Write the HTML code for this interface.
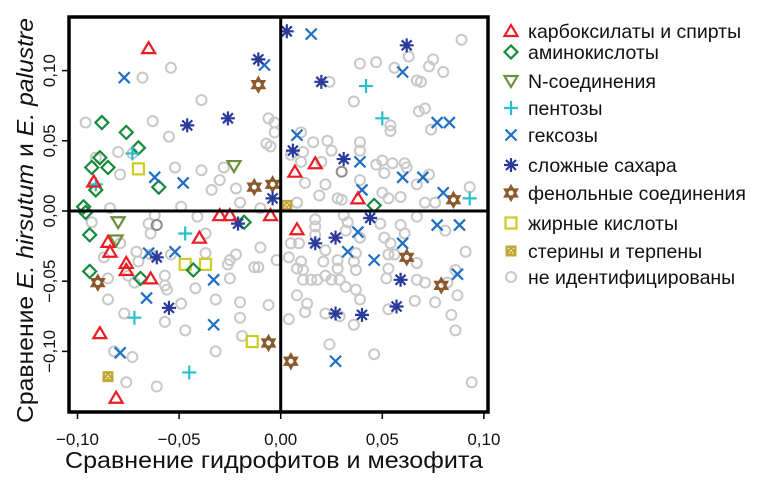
<!DOCTYPE html>
<html><head><meta charset="utf-8"><style>
html,body{margin:0;padding:0;background:#fff;}
svg{display:block;font-family:"Liberation Sans",sans-serif;}
</style></head><body>
<svg id="chart" width="765" height="485" viewBox="0 0 765 485" xmlns="http://www.w3.org/2000/svg">
<g id="marks"></g>
<g id="axes"></g>
<g id="legend"></g>
</svg>
<script>
const xTicks=[-0.10,-0.05,0.00,0.05,0.10];
const xTickLabels=["−0,10","−0,05","0,00","0,05","0,10"];
const yTicks=[-0.10,-0.05,0.00,0.05,0.10];
const yTickLabels=["−0,10","−0,05","0,00","0,05","0,10"];
const seriesNames=["карбоксилаты и спирты","аминокислоты","N-соединения","пентозы","гексозы","сложные сахара","фенольные соединения","жирные кислоты","стерины и терпены","не идентифицированы"];
const carboxX=[-0.065,-0.092,-0.030,-0.025,-0.005,-0.085,-0.084,-0.040,-0.076,-0.076,-0.064,-0.089,-0.081,0.007,0.017,0.038,0.008];
const carboxY=[0.116,0.021,-0.003,-0.003,-0.003,-0.022,-0.029,-0.019,-0.037,-0.042,-0.048,-0.087,-0.133,0.028,0.034,0.009,-0.013];
const aminoX=[-0.088,-0.076,-0.070,-0.089,-0.085,-0.093,-0.060,-0.091,-0.097,-0.096,-0.094,-0.094,-0.069,-0.043,-0.018,0.046];
const aminoY=[0.063,0.056,0.045,0.038,0.031,0.031,0.017,0.015,0.003,-0.001,-0.017,-0.043,-0.048,-0.042,-0.008,0.004];
const nX=[-0.023,-0.080,-0.081];
const nY=[0.032,-0.008,-0.021];
const pentX=[-0.073,0.042,0.050,0.093,-0.047,-0.072,-0.045,-0.091];
const pentY=[0.041,0.089,0.066,0.009,-0.016,-0.076,-0.115,0.019];
const hexX=[-0.077,-0.008,-0.062,-0.048,0.015,0.060,0.077,0.083,0.008,0.039,0.060,0.070,0.040,0.080,-0.065,-0.052,-0.033,-0.033,-0.079,-0.066,0.077,0.088,0.060,0.046,0.033,0.038,0.087,0.027];
const hexY=[0.095,0.104,0.024,0.020,0.126,0.099,0.063,0.063,0.054,0.035,0.024,0.024,0.015,0.013,-0.030,-0.029,-0.049,-0.081,-0.101,-0.062,-0.010,-0.010,-0.023,-0.035,-0.029,-0.015,-0.045,-0.107];
const sugarX=[-0.011,-0.046,-0.026,-0.004,0.003,0.062,0.020,0.006,0.031,-0.021,-0.061,-0.055,0.044,0.027,0.017,0.027,0.040,0.057,0.059];
const sugarY=[0.108,0.061,0.066,0.009,0.128,0.118,0.092,0.043,0.037,-0.009,-0.033,-0.069,-0.005,-0.019,-0.023,-0.073,-0.074,-0.068,-0.049];
const phenX=[-0.011,-0.013,-0.004,0.085,-0.090,-0.006,0.062,0.079,0.005];
const phenY=[0.090,0.017,0.019,0.008,-0.051,-0.094,-0.033,-0.053,-0.107];
const fatX=[-0.070,-0.047,-0.037,-0.014];
const fatY=[0.030,-0.038,-0.038,-0.093];
const sterX=[-0.085,0.003];
const sterY=[-0.118,0.004];
const unkX=[-0.054,-0.068,-0.039,-0.096,-0.063,-0.055,-0.080,-0.091,-0.073,-0.079,-0.052,-0.039,-0.028,-0.030,-0.034,-0.022,-0.020,-0.006,-0.003,-0.003,-0.007,-0.005,-0.049,-0.084,-0.010,
0.089,0.063,0.039,0.047,0.056,0.075,0.073,0.080,0.067,0.069,0.024,0.036,0.068,0.071,0.054,0.054,0.074,0.010,0.016,0.023,0.039,0.039,0.011,0.005,0.025,0.010,0.020,0.047,0.050,0.055,0.061,0.062,0.051,0.012,0.022,0.019,0.039,0.073,0.067,0.093,0.028,0.030,0.050,0.053,0.059,0.071,0.076,0.008,
-0.093,-0.065,-0.062,-0.064,-0.041,-0.037,-0.079,-0.087,-0.071,-0.070,-0.064,-0.054,-0.037,-0.025,-0.022,-0.026,-0.013,-0.011,-0.010,-0.002,-0.075,-0.072,-0.085,-0.057,-0.057,-0.056,-0.042,-0.025,-0.085,-0.032,-0.020,-0.006,-0.049,-0.077,-0.057,-0.020,-0.047,-0.019,-0.032,-0.082,-0.073,-0.076,-0.061,
0.017,0.017,0.017,0.031,0.033,0.032,0.039,0.049,0.051,0.054,0.059,0.061,0.067,0.081,0.005,0.009,0.004,0.022,0.021,0.037,0.036,0.037,0.010,0.008,0.011,0.028,0.028,0.053,0.056,0.053,0.052,0.067,0.067,0.071,0.011,0.015,0.018,0.025,0.029,0.032,0.022,0.037,0.091,0.086,0.082,0.087,0.008,0.013,0.012,0.022,0.039,0.053,0.066,0.076,0.084,0.086,0.036,0.004,0.024,0.046,0.094,0.029];
const unkY=[0.102,0.095,0.079,0.063,0.064,0.053,0.042,0.038,0.041,0.026,0.031,0.029,0.031,0.022,0.015,0.016,0.006,0.066,0.063,0.056,0.048,0.046,0.003,0.002,0.002,
0.122,0.110,0.105,0.106,0.102,0.108,0.103,0.099,0.093,0.092,0.092,0.078,0.071,0.073,0.061,0.057,0.058,0.056,0.049,0.050,0.049,0.043,0.042,0.040,0.043,0.035,0.035,0.033,0.036,0.034,0.034,0.031,0.027,0.020,0.019,0.011,0.022,0.026,0.019,0.017,0.009,0.008,0.013,0.009,0.010,0.006,0.006,0.006,
-0.008,-0.009,-0.003,-0.016,-0.004,-0.016,-0.023,-0.033,-0.029,-0.036,-0.031,-0.031,-0.030,-0.035,-0.031,-0.038,-0.040,-0.040,-0.026,-0.035,-0.046,-0.051,-0.048,-0.046,-0.053,-0.056,-0.055,-0.048,-0.063,-0.063,-0.065,-0.067,-0.066,-0.073,-0.079,-0.076,-0.085,-0.089,-0.100,-0.100,-0.104,-0.122,-0.125,
-0.006,-0.011,-0.017,-0.003,-0.008,-0.014,-0.019,-0.009,-0.019,-0.023,-0.010,-0.016,-0.004,-0.014,-0.023,-0.023,-0.033,-0.028,-0.036,-0.030,-0.036,-0.042,-0.036,-0.041,-0.042,-0.035,-0.041,-0.031,-0.031,-0.041,-0.048,-0.037,-0.049,-0.051,-0.049,-0.049,-0.049,-0.049,-0.049,-0.054,-0.046,-0.056,-0.029,-0.042,-0.051,-0.060,-0.060,-0.066,-0.072,-0.073,-0.063,-0.070,-0.064,-0.065,-0.074,-0.085,-0.081,-0.077,-0.095,-0.102,-0.122,-0.075];
const darkX=[0.030,-0.061];
const darkY=[0.028,-0.010];

const NS="http://www.w3.org/2000/svg";
const X0=280.7, XS=2032, Y0=211, YS=1404;
function sx(v){return X0+v*XS;}
function sy(v){return Y0-v*YS;}
function mk(tag,at,parent){const e=document.createElementNS(NS,tag);for(const k in at)e.setAttribute(k,at[k]);parent.appendChild(e);return e;}
const C={red:"#ec1c24",green:"#17893b",olive:"#6b8f3c",cyan:"#27bfcb",blue:"#1f6fc1",navy:"#293a9b",brown:"#8a5a2c",yellow:"#cccc22",gold:"#c2a734",gray:"#c8c8c8",dgray:"#8c8c8c"};
function marker(type,x,y,g){
  const gg=mk("g",{},g);
  if(type==="tri"){mk("path",{d:`M${x},${y-6}L${x+6.5},${y+5}L${x-6.5},${y+5}Z`,fill:"none",stroke:C.red,"stroke-width":2.2},gg);}
  else if(type==="dia"){mk("path",{d:`M${x},${y-6.5}L${x+6.5},${y}L${x},${y+6.5}L${x-6.5},${y}Z`,fill:"none",stroke:C.green,"stroke-width":2.2},gg);}
  else if(type==="tdown"){mk("path",{d:`M${x-6.5},${y-5}L${x+6.5},${y-5}L${x},${y+6}Z`,fill:"none",stroke:C.olive,"stroke-width":2.2},gg);}
  else if(type==="plus"){mk("path",{d:`M${x-7},${y}H${x+7}M${x},${y-7}V${y+7}`,stroke:C.cyan,"stroke-width":2.2},gg);}
  else if(type==="x"){mk("path",{d:`M${x-5.5},${y-5.5}L${x+5.5},${y+5.5}M${x+5.5},${y-5.5}L${x-5.5},${y+5.5}`,stroke:C.blue,"stroke-width":2.2},gg);}
  else if(type==="ast"){mk("path",{d:`M${x-7},${y}H${x+7}M${x},${y-7}V${y+7}M${x-5},${y-5}L${x+5},${y+5}M${x+5},${y-5}L${x-5},${y+5}`,stroke:C.navy,"stroke-width":2.2},gg);}
  else if(type==="star"){mk("path",{d:`M${x},${y-7}L${x+6},${y+3.5}L${x-6},${y+3.5}Z M${x},${y+7}L${x+6},${y-3.5}L${x-6},${y-3.5}Z`,fill:"none",stroke:C.brown,"stroke-width":2.2},gg);}
  else if(type==="sq"){mk("rect",{x:x-5.5,y:y-5.5,width:11,height:11,fill:"none",stroke:C.yellow,"stroke-width":2.2},gg);}
  else if(type==="ster"){mk("rect",{x:x-5.5,y:y-5.5,width:11,height:11,fill:C.gold},gg);mk("path",{d:`M${x-3},${y-3}L${x+3},${y+3}M${x+3},${y-3}L${x-3},${y+3}`,stroke:"#fff","stroke-width":1,"stroke-dasharray":"1.5 1.5"},gg);}
  else if(type==="circ"){mk("circle",{cx:x,cy:y,r:5,fill:"none",stroke:C.gray,"stroke-width":2},gg);}
  else if(type==="dcirc"){mk("circle",{cx:x,cy:y,r:5,fill:"none",stroke:C.dgray,"stroke-width":2},gg);}
  return gg;
}
const marks=document.getElementById("marks");
function drawSeries(name,type,xs,ys){
  const g=mk("g",{},marks);
  
  
  for(let i=0;i<xs.length;i++){
    const m=marker(type,sx(xs[i]),sy(ys[i]),g);
    
    
  }
}
drawSeries("unidentified","circ",unkX,unkY);
drawSeries("unidentified-dark","dcirc",darkX,darkY);
drawSeries("fatty-acids","sq",fatX,fatY);
drawSeries("sterols","ster",sterX,sterY);
drawSeries("phenolics","star",phenX,phenY);
drawSeries("n-compounds","tdown",nX,nY);
drawSeries("amino-acids","dia",aminoX,aminoY);
drawSeries("hexoses","x",hexX,hexY);
drawSeries("pentoses","plus",pentX,pentY);
drawSeries("complex-sugars","ast",sugarX,sugarY);
drawSeries("carboxylates","tri",carboxX,carboxY);

const axes=document.getElementById("axes");
const L=69,T=17,R=488,B=412;
let e;
e=mk("line",{x1:sx(0),y1:T,x2:sx(0),y2:B,stroke:"#000","stroke-width":3},axes);

e=mk("line",{x1:L,y1:sy(0),x2:R,y2:sy(0),stroke:"#000","stroke-width":3},axes);

e=mk("rect",{x:L,y:T,width:R-L,height:B-T,fill:"none",stroke:"#000","stroke-width":3.5},axes);

xTicks.forEach((v,i)=>{
  const t=mk("line",{x1:sx(v),y1:B,x2:sx(v),y2:B+7,stroke:"#000","stroke-width":1.5},axes);
  
  const l=mk("text",{x:sx(v),y:445,"text-anchor":"middle","font-size":17,fill:"#111"},axes);
  l.textContent=xTickLabels[i];
  
});
yTicks.forEach((v,i)=>{
  const t=mk("line",{x1:L-7,y1:sy(v),x2:L,y2:sy(v),stroke:"#000","stroke-width":1.5},axes);
  
  const l=mk("text",{x:55,y:sy(v),"text-anchor":"middle","font-size":17,fill:"#111",transform:`rotate(-90 55 ${sy(v)})`},axes);
  l.textContent=yTickLabels[i];
  
});
e=mk("text",{x:65,y:468,"font-size":23,fill:"#111",textLength:418,lengthAdjust:"spacingAndGlyphs"},axes);
e.textContent="Сравнение гидрофитов и мезофита";

e=mk("text",{x:0,y:0,"font-size":23,fill:"#111",textLength:405,lengthAdjust:"spacingAndGlyphs",transform:"translate(33 423) rotate(-90)"},axes);
e.innerHTML='Сравнение <tspan font-style="italic">E. hirsutum</tspan> и <tspan font-style="italic">E. palustre</tspan>';


const leg=document.getElementById("legend");
const legTypes=["tri","dia","tdown","plus","x","ast","star","sq","ster","circ"];
const legY=[38,59,88,115,142,172,200,230,258,284];
legTypes.forEach((t,i)=>{
  const g=mk("g",{},leg);
  
  
  marker(t,511,legY[i]-7,g);
  const tx=mk("text",{x:528,y:legY[i],"font-size":19.5,fill:"#111"},g);
  tx.textContent=seriesNames[i];
});
</script>
</body></html>
